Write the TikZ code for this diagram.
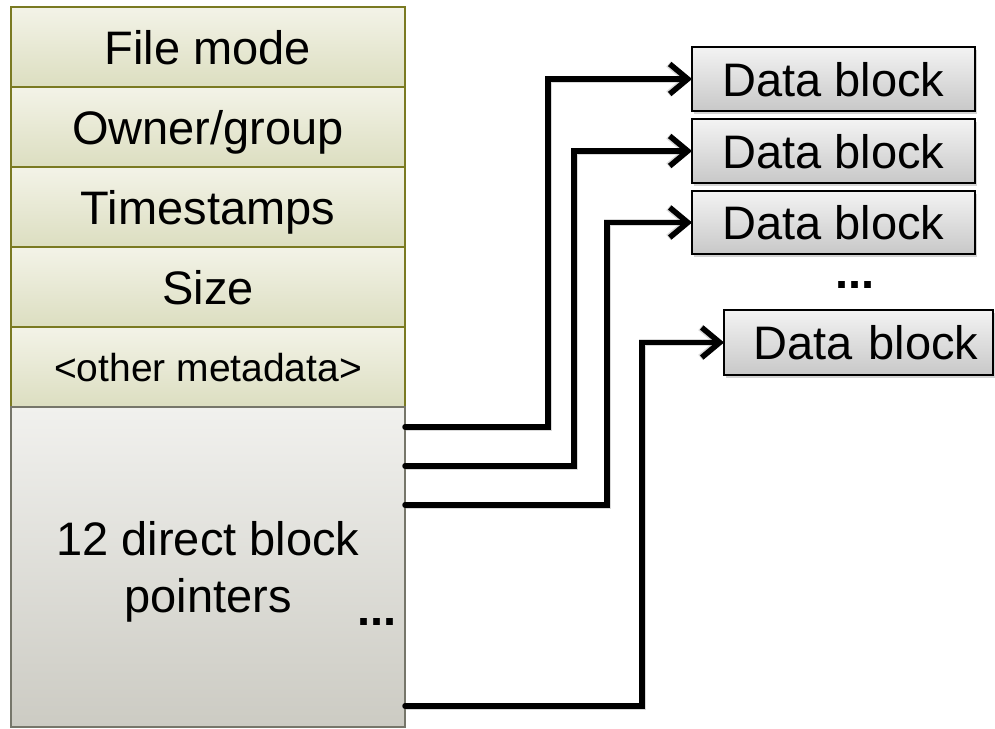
\documentclass[tikz,border=0pt]{standalone}
\usepackage{fontspec}
\setmainfont{Liberation Sans}
\usetikzlibrary{arrows.meta,shadows}
\definecolor{olivebd}{RGB}{122,122,34}
\definecolor{rowtop}{RGB}{243,243,232}
\definecolor{rowbot}{RGB}{220,222,192}
\definecolor{ptrtop}{RGB}{241,241,238}
\definecolor{ptrbot}{RGB}{204,203,195}
\definecolor{ptrbd}{RGB}{118,118,106}
\definecolor{dbtop}{RGB}{243,243,243}
\definecolor{dbbot}{RGB}{200,200,200}
\tikzset{
  big/.style={font=\fontsize{47}{56}\selectfont},
  row/.style={draw=olivebd, line width=2pt, top color=rowtop, bottom color=rowbot,
     minimum width=394pt, minimum height=80pt, inner sep=0pt, outer sep=0pt,
     text height=34pt, text depth=0pt, big},
  ptrbox/.style={draw=ptrbd, line width=2pt, top color=ptrtop, bottom color=ptrbot,
     minimum width=394pt, minimum height=320pt, inner sep=0pt, outer sep=0pt},
  dblock/.style={draw=black, line width=2pt, top color=dbtop, bottom color=dbbot,
     minimum width=283pt, minimum height=64pt, inner sep=0pt, outer sep=0pt,
     text height=34pt, text depth=0pt, big,
     drop shadow={shadow xshift=2pt, shadow yshift=-3pt, opacity=0.35, fill=gray}},
  conn/.style={line width=5.5pt, draw=black, line cap=round,
     -{Straight Barb[length=18pt, width=30pt, line width=5.5pt]}},
  connsh/.style={line width=7pt, draw=gray, opacity=0.3,
     -{Straight Barb[length=18pt, width=30pt, line width=7pt]}},
  dots/.style={big, font=\fontsize{47}{56}\selectfont\bfseries, anchor=base, inner sep=0pt}
}
\begin{document}
\begin{tikzpicture}[x=1pt, y=-1pt]
\useasboundingbox (0,0) rectangle (995,728);
% left column
\node[row] (fm) at (208,47) {File mode};
\node[row] (og) at (208,127) {Owner/group};
\node[row] (ts) at (208,207) {Timestamps};
\node[row] (sz) at (208,287) {Size};
\node[row, text height=28pt, font=\fontsize{39}{46}\selectfont] (om) at (208,367) {<other metadata>};
\node[ptrbox] (ptr) at (208,567) {};
\node[big, anchor=base, inner sep=0pt] (ptrtxt) at (208,555) {12 direct block};
\node[big, anchor=base, inner sep=0pt] (ptrtxt2) at (208,612) {pointers};
\node[dots, anchor=base east] (pdots) at (397,625) {...};
% data blocks
\node[dblock] (d1) at (833.5,79) {Data block};
\node[dblock] (d2) at (833.5,151) {Data block};
\node[dblock, minimum height=63pt] (d3) at (833.5,222.5) {Data block};
\node[dblock, minimum width=269pt, minimum height=65pt, text width=269pt, align=center] (d4) at (858.5,342.5) {\hspace*{15pt}Data block};
\node[dots] (ddots) at (855,288) {...};
% connector points
\coordinate (p1) at (405,427);
\coordinate (p2) at (405,466);
\coordinate (p3) at (405,505);
\coordinate (p4) at (405,706);
\coordinate (v1) at (548,79);
\coordinate (v2) at (574,151);
\coordinate (v3) at (607,222.5);
\coordinate (v4) at (642,342.5);
% shadows
\begin{scope}[shift={(2,3)}]
\draw[connsh] (p1) -| (v1) -- (d1.west);
\draw[connsh] (p2) -| (v2) -- (d2.west);
\draw[connsh] (p3) -| (v3) -- (d3.west);
\draw[connsh] (p4) -| (v4) -- (d4.west);
\end{scope}
% connectors
\draw[conn] (p1) -| (v1) -- (d1.west);
\draw[conn] (p2) -| (v2) -- (d2.west);
\draw[conn] (p3) -| (v3) -- (d3.west);
\draw[conn] (p4) -| (v4) -- (d4.west);
\end{tikzpicture}
\end{document}
